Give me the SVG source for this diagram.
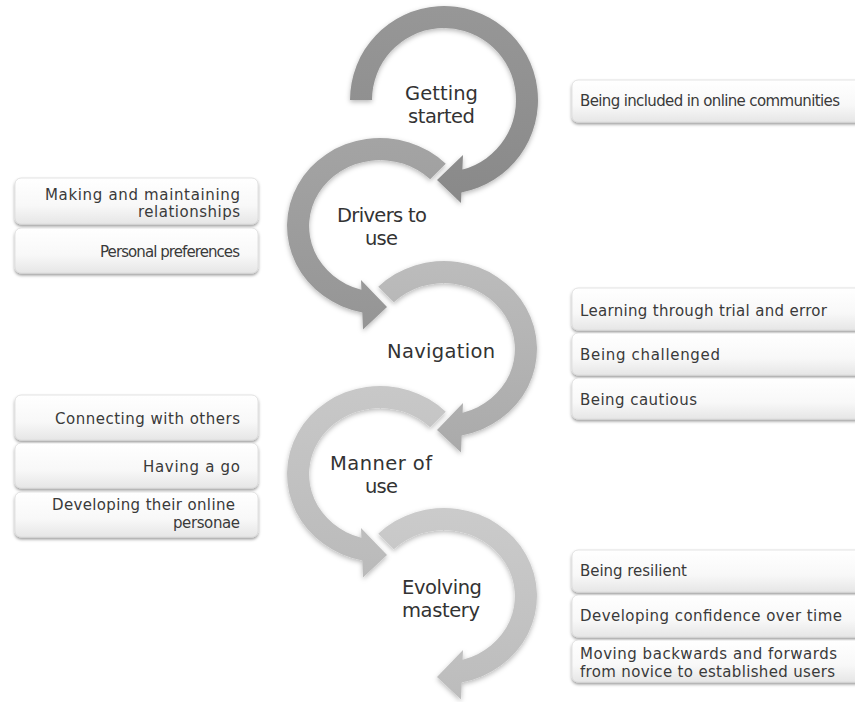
<svg xmlns="http://www.w3.org/2000/svg" width="855" height="702" viewBox="0 0 855 702">
  <defs>
    <filter id="arrowShadow" x="-20%" y="-20%" width="140%" height="140%">
      <feDropShadow dx="0" dy="2" stdDeviation="2.5" flood-color="#000" flood-opacity="0.28"/>
    </filter>
    <filter id="boxShadow" x="-10%" y="-20%" width="120%" height="150%">
      <feDropShadow dx="0" dy="2" stdDeviation="1.5" flood-color="#000" flood-opacity="0.4"/>
    </filter>
    <linearGradient id="boxFill" x1="0" y1="0" x2="0" y2="1">
      <stop offset="0" stop-color="#ffffff"/>
      <stop offset="0.6" stop-color="#f8f8f8"/>
      <stop offset="1" stop-color="#e6e6e6"/>
    </linearGradient>
    <linearGradient id="g1" x1="0" y1="0" x2="0" y2="1">
      <stop offset="0" stop-color="#979797"/>
      <stop offset="1" stop-color="#898989"/>
    </linearGradient>
    <linearGradient id="g2" x1="0" y1="0" x2="0" y2="1">
      <stop offset="0" stop-color="#a4a4a4"/>
      <stop offset="1" stop-color="#959595"/>
    </linearGradient>
    <linearGradient id="g3" x1="0" y1="0" x2="0" y2="1">
      <stop offset="0" stop-color="#bcbcbc"/>
      <stop offset="1" stop-color="#aaaaaa"/>
    </linearGradient>
    <linearGradient id="g4" x1="0" y1="0" x2="0" y2="1">
      <stop offset="0" stop-color="#c8c8c8"/>
      <stop offset="1" stop-color="#bababa"/>
    </linearGradient>
    <linearGradient id="g5" x1="0" y1="0" x2="0" y2="1">
      <stop offset="0" stop-color="#cbcbcb"/>
      <stop offset="1" stop-color="#bcbcbc"/>
    </linearGradient>
  </defs>
  <style>
    .arrow { filter: url(#arrowShadow); }
    .box { fill: url(#boxFill); stroke: #dcdcdc; stroke-width: 0.8; filter: url(#boxShadow); }
    .step { font-family: "DejaVu Sans", "Liberation Sans", sans-serif; font-size: 19.5px; fill: #333333; text-anchor: middle; }
    .item { font-family: "DejaVu Sans", "Liberation Sans", sans-serif; font-size: 15px; fill: #3a3a3a; }
    .left .item { text-anchor: end; }
  </style>

  <!-- circular arrows, drawn last-to-first so each head sits over the next arc -->
  <g id="connectors">
    <path id="arrow-evolving" class="arrow" fill="url(#g5)" d="M 378.2 533.8 A 93 88 0 1 1 461.7 682.4 L 461 699.5 L 437 677 L 463 650 L 462.6 659.75 A 71 66 0 1 0 393.8 549.3 Z"/>
    <path id="arrow-manner" class="arrow" fill="url(#g4)" d="M 445.8 411.8 A 93 88 0 1 0 362.3 560.4 L 363 577.5 L 387 555 L 361 528 L 361.4 537.75 A 71 66 0 1 1 430.2 427.3 Z"/>
    <path id="arrow-navigation" class="arrow" fill="url(#g3)" d="M 378.2 286.8 A 93 88 0 1 1 461.7 435.4 L 461 452.5 L 437 430 L 463 403 L 462.6 412.75 A 71 66 0 1 0 393.8 302.3 Z"/>
    <path id="arrow-drivers" class="arrow" fill="url(#g2)" d="M 445.8 163.8 A 93 88 0 1 0 362.3 312.4 L 363 329.5 L 387 307 L 361 280 L 361.4 289.75 A 71 66 0 1 1 430.2 179.3 Z"/>
    <path id="arrow-getting" class="arrow" fill="url(#g1)" d="M 350 100 A 94 94 0 1 1 461.4 192.4 L 461 203 L 437 180 L 463 155 L 462.4 169.6 A 72 72 0 1 0 372 100 Z"/>
  </g>

  <!-- step labels -->
  <g id="step-getting-started">
    <text class="step" x="441.5" y="100" textLength="73">Getting</text>
    <text class="step" x="441.5" y="123" textLength="67">started</text>
  </g>
  <g id="step-drivers">
    <text class="step" x="382" y="222" textLength="90">Drivers to</text>
    <text class="step" x="381.5" y="245" textLength="33">use</text>
  </g>
  <g id="step-navigation">
    <text class="step" x="441" y="358" textLength="108">Navigation</text>
  </g>
  <g id="step-manner">
    <text class="step" x="381" y="470" textLength="102">Manner of</text>
    <text class="step" x="381.5" y="493" textLength="33">use</text>
  </g>
  <g id="step-evolving">
    <text class="step" x="442" y="594" textLength="80">Evolving</text>
    <text class="step" x="441" y="617" textLength="78">mastery</text>
  </g>

  <!-- detail boxes, left column -->
  <g class="left">
    <g id="item-relationships">
      <rect class="box" x="15" y="178" width="243" height="46" rx="6"/>
      <text class="item" x="240" y="199.5" textLength="195">Making and maintaining</text>
      <text class="item" x="240" y="217.2" textLength="102">relationships</text>
    </g>
    <g id="item-preferences">
      <rect class="box" x="15" y="228" width="243" height="45" rx="6"/>
      <text class="item" x="240" y="257" textLength="140">Personal preferences</text>
    </g>
    <g id="item-connecting">
      <rect class="box" x="15" y="395" width="243" height="45" rx="6"/>
      <text class="item" x="240" y="424" textLength="185">Connecting with others</text>
    </g>
    <g id="item-having-a-go">
      <rect class="box" x="15" y="443" width="243" height="45" rx="6"/>
      <text class="item" x="240" y="472" textLength="97">Having a go</text>
    </g>
    <g id="item-personae">
      <rect class="box" x="15" y="492" width="243" height="45" rx="6"/>
      <text class="item" x="235" y="510" textLength="183">Developing their online</text>
      <text class="item" x="240" y="527.7" textLength="67">personae</text>
    </g>
  </g>

  <!-- detail boxes, right column (run past the right edge) -->
  <g class="right">
    <g id="item-communities">
      <rect class="box" x="572" y="80" width="300" height="42" rx="6"/>
      <text class="item" x="580" y="106" textLength="260">Being included in online communities</text>
    </g>
    <g id="item-trial-error">
      <rect class="box" x="572" y="288" width="300" height="42" rx="6"/>
      <text class="item" x="580" y="316" textLength="247">Learning through trial and error</text>
    </g>
    <g id="item-challenged">
      <rect class="box" x="572" y="333" width="300" height="42" rx="6"/>
      <text class="item" x="580" y="360" textLength="140">Being challenged</text>
    </g>
    <g id="item-cautious">
      <rect class="box" x="572" y="378" width="300" height="41" rx="6"/>
      <text class="item" x="580" y="405" textLength="117">Being cautious</text>
    </g>
    <g id="item-resilient">
      <rect class="box" x="572" y="550" width="300" height="42" rx="6"/>
      <text class="item" x="580" y="576" textLength="107">Being resilient</text>
    </g>
    <g id="item-confidence">
      <rect class="box" x="572" y="595" width="300" height="42" rx="6"/>
      <text class="item" x="580" y="621" textLength="262">Developing confidence over time</text>
    </g>
    <g id="item-novice">
      <rect class="box" x="572" y="640" width="300" height="42" rx="6"/>
      <text class="item" x="580" y="659" textLength="257">Moving backwards and forwards</text>
      <text class="item" x="580" y="676.7" textLength="255">from novice to established users</text>
    </g>
  </g>
</svg>
